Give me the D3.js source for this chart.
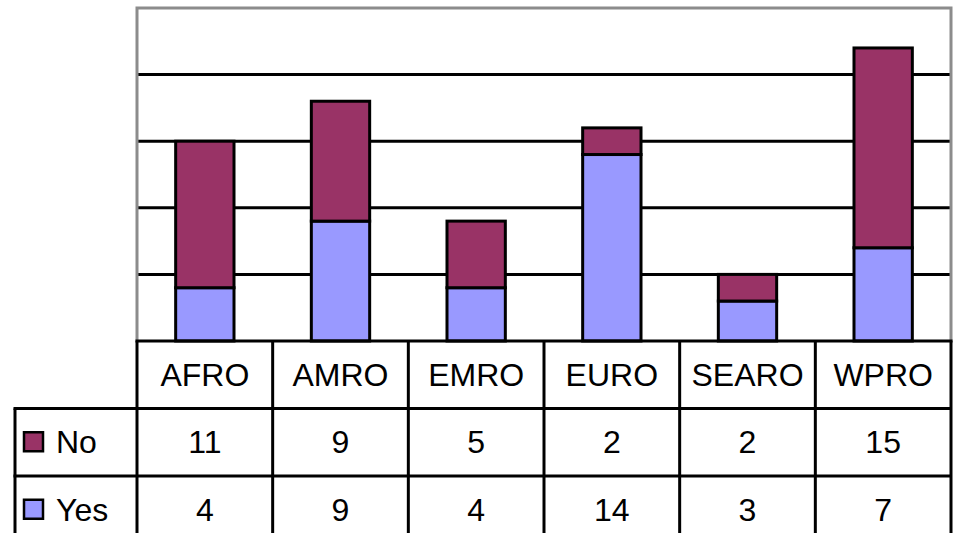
<!DOCTYPE html>
<html>
<head>
<meta charset="utf-8">
<script src="https://cdn.jsdelivr.net/npm/d3@7"></script>
<style>
  body { margin: 0; background: #fff; }
  svg { display: block; }
  text { font-family: "Liberation Sans", Arial, sans-serif; fill: #000; }
</style>
</head>
<body>
<div id="chart"></div>
<script>
// data
var regions = ["AFRO", "AMRO", "EMRO", "EURO", "SEARO", "WPRO"];
var yesVals = [4, 9, 4, 14, 3, 7];
var noVals  = [11, 9, 5, 2, 2, 15];
var seriesNames = ["No", "Yes"];
var gridTicks = [0, 5, 10, 15, 20, 25];

var width = 957, height = 533;
var plot = {left: 137, right: 951, top: 8, bottom: 341};
var rowH = 67.5;
var tableLeft = 15;

var svg = d3.select("#chart")
  .append("svg")
    .attr("width", width)
    .attr("height", height);

var x = d3.scaleBand()
  .domain(regions)
  .range([plot.left, plot.right])
  .padding(0);

var y = d3.scaleLinear()
  .domain([0, 25])
  .range([plot.bottom, plot.top]);

var barW = x.bandwidth() * 0.43;

// gridlines
svg.selectAll(".grid")
  .data(gridTicks.filter(d => d > 0 && d < 25))
  .enter()
  .append("line")
    .attr("x1", plot.left)
    .attr("x2", plot.right)
    .attr("y1", d => y(d))
    .attr("y2", d => y(d))
    .attr("stroke", "#000")
    .attr("stroke-width", 3);

// plot border (gray)
svg.append("path")
  .attr("d", "M" + plot.left + "," + plot.bottom + "V" + y(25) + "H" + plot.right + "V" + plot.bottom)
  .attr("fill", "none")
  .attr("stroke", "#8c8c8c")
  .attr("stroke-width", 3);

// stacked bars
var stackData = regions.map((r, i) => ({region: r, Yes: yesVals[i], No: noVals[i]}));
var stack = d3.stack().keys(["Yes", "No"])(stackData);
var colors = {Yes: "#9999ff", No: "#993366"};

stack.forEach(layer => {
  svg.selectAll(".bar-" + layer.key)
    .data(layer)
    .enter()
    .append("rect")
      .attr("x", d => x(d.data.region) + (x.bandwidth() - barW) / 2)
      .attr("y", d => y(d[1]))
      .attr("width", barW)
      .attr("height", d => y(d[0]) - y(d[1]))
      .attr("fill", colors[layer.key])
      .attr("stroke", "#000")
      .attr("stroke-width", 3);
});

// data table
var t = svg.append("g");
var rowTops = [plot.bottom, plot.bottom + rowH, plot.bottom + 2 * rowH];

// horizontal lines
t.append("line")
  .attr("x1", plot.left - 1.5).attr("x2", plot.right + 1.5)
  .attr("y1", rowTops[0]).attr("y2", rowTops[0])
  .attr("stroke", "#000").attr("stroke-width", 3);
[rowTops[1], rowTops[2]].forEach(ry => {
  t.append("line")
    .attr("x1", tableLeft - 1.5).attr("x2", plot.right)
    .attr("y1", ry).attr("y2", ry)
    .attr("stroke", "#000").attr("stroke-width", 3);
});

// vertical lines
var colEdges = regions.map(r => x(r)).concat([plot.right]);
colEdges.forEach(cx => {
  t.append("line")
    .attr("x1", cx).attr("x2", cx)
    .attr("y1", rowTops[0]).attr("y2", height)
    .attr("stroke", "#000").attr("stroke-width", 3);
});
t.append("line")
  .attr("x1", tableLeft).attr("x2", tableLeft)
  .attr("y1", rowTops[1]).attr("y2", height)
  .attr("stroke", "#000").attr("stroke-width", 3);

var fontSize = 32;
// header labels
t.selectAll(".cat")
  .data(regions)
  .enter()
  .append("text")
    .attr("x", d => x(d) + x.bandwidth() / 2)
    .attr("y", rowTops[0] + rowH / 2 + 11)
    .attr("text-anchor", "middle")
    .attr("font-size", fontSize)
    .text(d => d);

// value rows
var rowsData = [noVals, yesVals];
rowsData.forEach((vals, ri) => {
  t.selectAll(".val" + ri)
    .data(vals)
    .enter()
    .append("text")
      .attr("x", (d, i) => x(regions[i]) + x.bandwidth() / 2)
      .attr("y", rowTops[ri + 1] + rowH / 2 + 11)
      .attr("text-anchor", "middle")
      .attr("font-size", fontSize)
      .text(d => d);

  // legend key
  var key = seriesNames[ri];
  t.append("rect")
    .attr("x", 24)
    .attr("y", rowTops[ri + 1] + rowH / 2 - 10)
    .attr("width", 19)
    .attr("height", 19)
    .attr("fill", colors[key])
    .attr("stroke", "#000")
    .attr("stroke-width", 2.5);
  t.append("text")
    .attr("x", 56)
    .attr("y", rowTops[ri + 1] + rowH / 2 + 11)
    .attr("font-size", fontSize)
    .text(key);
});
</script>
</body>
</html>
